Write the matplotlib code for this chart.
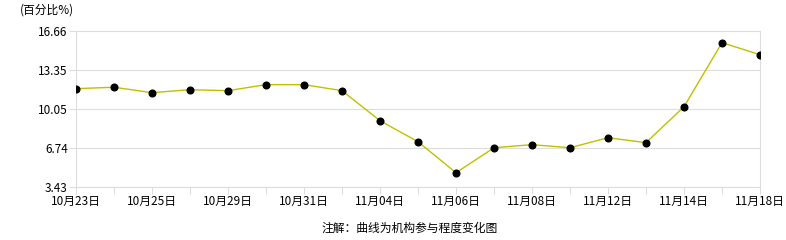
import matplotlib.pyplot as plt

plt.rcParams['font.family'] = ['Noto Sans CJK SC', 'DejaVu Sans']

# --- Dados ---
dates = ["10月23日", "10月24日", "10月25日", "10月28日", "10月29日", "10月30日",
         "10月31日", "11月01日", "11月04日", "11月05日", "11月06日", "11月07日",
         "11月08日", "11月11日", "11月12日", "11月13日", "11月14日", "11月15日",
         "11月18日"]
values = [11.77, 11.89, 11.43, 11.68, 11.60, 12.11, 12.11, 11.60, 9.05, 7.27,
          4.64, 6.76, 7.02, 6.76, 7.61, 7.19, 10.24, 15.67, 14.65]
y_ticks = [3.43, 6.74, 10.05, 13.35, 16.66]

GRID = "#dddddd"

fig = plt.figure(figsize=(7.86, 2.4), dpi=100)
ax = fig.add_axes([76 / 786, 53 / 240, 684 / 786, 156 / 240])

x = list(range(len(dates)))
ax.plot(x, values, color="#c0c000", linewidth=1.0, zorder=3)
ax.plot(x, values, linestyle="none", marker="o", markersize=4.8,
        color="black", zorder=4)

ax.set_xlim(0, len(dates) - 1)
ax.set_ylim(y_ticks[0], y_ticks[-1])

ax.set_yticks(y_ticks)
ax.set_yticklabels([f"{v:.2f}" for v in y_ticks])
ax.set_xticks(x)
ax.set_xticklabels([d if i % 2 == 0 else "" for i, d in enumerate(dates)])

ax.grid(axis="y", color=GRID, linewidth=0.8, zorder=0)
for side in ["left", "right", "bottom"]:
    ax.spines[side].set_color(GRID)
    ax.spines[side].set_linewidth(0.8)
ax.spines["top"].set_visible(False)

ax.tick_params(axis="both", colors=GRID, length=5, width=0.8,
               labelcolor="black", labelsize=8.5)
ax.tick_params(axis="y", pad=1)
ax.tick_params(axis="x", pad=1)

fig.text(20 / 786, 1 - 10 / 240, "(百分比%)", fontsize=8.5, va="center", ha="left")
fig.text(410 / 786, 1 - 228 / 240, "注解：曲线为机构参与程度变化图", fontsize=8.5,
         va="center", ha="center")

fig.savefig("out.png", dpi=100)
